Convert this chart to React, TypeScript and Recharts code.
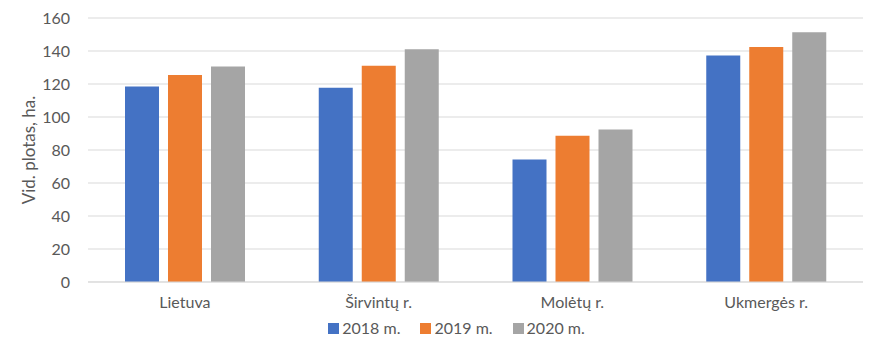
import React from 'react';
import { BarChart, Bar, XAxis, YAxis, CartesianGrid, Legend } from 'recharts';

const categories = ['Lietuva', 'Širvintų r.', 'Molėtų r.', 'Ukmergės r.'];
const values2018 = [118.5, 117.7, 74.3, 137.2];
const values2019 = [125.4, 131.0, 88.6, 142.5];
const values2020 = [130.6, 141.0, 92.5, 151.4];
const yTicks = [0, 20, 40, 60, 80, 100, 120, 140, 160];

const series = [
  { key: 'y2018', name: '2018 m.', color: '#4472C4' },
  { key: 'y2019', name: '2019 m.', color: '#ED7D31' },
  { key: 'y2020', name: '2020 m.', color: '#A5A5A5' },
];

const data = categories.map((category, i) => ({
  category,
  y2018: values2018[i],
  y2019: values2019[i],
  y2020: values2020[i],
}));

const FONT = 'Lato, "Open Sans", sans-serif';
const TEXT = '#595959';

// легенда: квадратик + подпись
function renderLegend() {
  return (
    <div style={{ display: 'flex', justifyContent: 'center', fontFamily: FONT, fontSize: 16, color: TEXT, lineHeight: '20px', paddingLeft: 50 }}>
      {series.map((s) => (
        <div key={s.key} style={{ display: 'flex', alignItems: 'center', margin: '0 10px' }}>
          <span style={{ width: 11, height: 11, background: s.color, display: 'inline-block', marginRight: 3 }} />
          <span>{s.name}</span>
        </div>
      ))}
    </div>
  );
}

export default function App() {
  return (
    <div style={{ position: 'absolute', left: 0, top: 0, width: 886, height: 359, background: '#fff' }}>
      <BarChart
        width={886}
        height={359}
        data={data}
        margin={{ top: 18, right: 23, left: 0, bottom: 21 }}
        barSize={34}
        barGap={9}
      >
        <CartesianGrid vertical={false} stroke="#d9d9d9" />
        <XAxis
          dataKey="category"
          tickLine={false}
          axisLine={{ stroke: '#d9d9d9' }}
          tick={{ fill: TEXT, fontSize: 16, fontFamily: FONT }}
          tickMargin={9}
          height={36}
        />
        <YAxis
          domain={[0, 160]}
          ticks={yTicks}
          width={88}
          tickLine={false}
          axisLine={false}
          tick={{ fill: TEXT, fontSize: 16, fontFamily: FONT }}
          tickMargin={12}
          label={{
            value: 'Vid. plotas, ha.',
            angle: -90,
            position: 'insideLeft',
            dx: 24,
            dy: 0,
            style: { textAnchor: 'middle', fill: TEXT, fontSize: 17, fontFamily: FONT },
          }}
        />
        <Legend verticalAlign="bottom" content={renderLegend} />
        {series.map((s) => (
          <Bar key={s.key} dataKey={s.key} name={s.name} fill={s.color} isAnimationActive={false} />
        ))}
      </BarChart>
    </div>
  );
}
